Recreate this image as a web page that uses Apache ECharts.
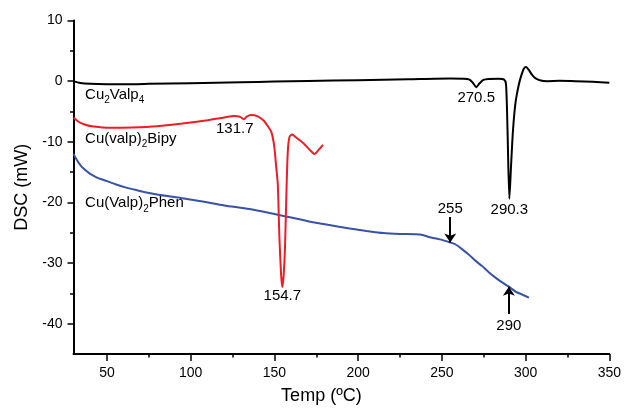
<!DOCTYPE html>
<html>
<head>
<meta charset="utf-8">
<script src="https://cdn.jsdelivr.net/npm/echarts@6/dist/echarts.min.js"></script>
<style>
  html, body { margin: 0; padding: 0; background: #fff; }
  #chart { width: 624px; height: 410px; }
</style>
</head>
<body>
<div id="chart"></div>
<script>
// Axis ticks
const xTicks = [50, 100, 150, 200, 250, 300, 350];
const xMinorTicks = [75, 125, 175, 225, 275, 325];
const yTicks = [-40, -30, -20, -10, 0, 10];
const yMinorTicks = [-35, -25, -15, -5, 5];

// DSC traces: [temperature (ºC), heat flow (mW)]
const cu2valp4 = [
  [30, 0.0], [34, -0.3], [40, -0.45], [50, -0.5], [65, -0.5], [75, -0.45],
  [100, -0.33], [130, -0.18], [150, -0.08], [170, 0.02], [200, 0.15],
  [230, 0.3], [255, 0.42], [263, 0.4], [266.5, 0.25], [268.7, -0.35],
  [270.5, -1.0], [272.4, -0.4], [274.8, 0.2], [278, 0.35], [284, 0.4],
  [287, 0.3], [288.3, -0.5], [289.2, -8], [290.3, -19.4], [291.3, -14],
  [292.5, -8], [294, -3.5], [296, -0.5], [297.5, 1.0], [299, 2.1],
  [300.3, 2.35], [302, 1.8], [304, 1.0], [306, 0.45], [309, 0.1],
  [313, 0.0], [320, 0.05], [330, 0.0], [340, -0.1], [350, -0.25]
];

const cuValpBipy = [
  [30, -6.0], [33, -6.7], [37, -7.2], [42, -7.5], [52, -7.7], [65, -7.65],
  [80, -7.45], [95, -7.0], [110, -6.45], [120, -6.0], [126, -5.75],
  [129.5, -5.9], [131.7, -6.3], [133.5, -5.85], [136, -5.6], [140, -5.8],
  [143.5, -6.5], [146, -7.4], [148, -8.3], [149, -9.3], [150, -11],
  [151, -14], [152, -17], [153, -26], [154, -32], [154.7, -34.0],
  [155.5, -32], [156.3, -27.5], [157.2, -18], [158, -11.5], [159, -9.2],
  [160.5, -8.8], [163, -9.3], [167.5, -10.3], [171, -11.3], [174, -12.0],
  [176.5, -11.3], [179, -10.5]
];

const cuValpPhen = [
  [30, -12.0], [32, -13.0], [34, -13.8], [36, -14.4], [40, -15.3],
  [44, -15.9], [48, -16.3], [55, -17.0], [62, -17.6], [68, -18.0],
  [80, -18.7], [95, -19.3], [108, -19.9], [120, -20.5], [135, -21.1],
  [148, -21.8], [160, -22.5], [170, -23.1], [182, -23.7], [195, -24.3],
  [205, -24.7], [215, -25.05], [225, -25.2], [237, -25.3], [243, -25.75],
  [249, -26.1], [255, -26.6], [258, -26.9], [262, -27.7], [266, -28.6],
  [270, -29.6], [274, -30.5], [278, -31.5], [282, -32.4], [286, -33.2],
  [290, -33.9], [294, -34.7], [298, -35.2], [302, -35.7]
];

// Labelled peak temperatures and marked transitions
const cu2valp4Peaks = [270.5, 290.3];
const bipyPeaks = [131.7, 154.7];
const phenArrowsDown = [255];
const phenArrowsUp = [290];

const FONT = 'Liberation Sans, Arial, Helvetica, sans-serif';
const C_BLACK = '#000000';
const C_RED = '#ee1d24';
const C_BLUE = '#3953a4';

function valueAt(data, x) {
  const p = data.find(d => d[0] === x);
  return p ? p[1] : null;
}

function peakLabel(data, x, offset) {
  return {
    coord: [x, valueAt(data, x)],
    symbol: 'circle',
    symbolSize: 0,
    label: {
      show: true,
      formatter: String(x),
      offset: offset,
      color: '#000',
      fontSize: 15,
      fontFamily: FONT
    }
  };
}

function nameLabel(coord, parts) {
  return {
    coord: coord,
    symbol: 'circle',
    symbolSize: 0,
    label: {
      show: true,
      position: 'inside',
      align: 'left',
      verticalAlign: 'middle',
      formatter: parts,
      rich: {
        n: { fontSize: 15, fontFamily: FONT, color: '#000', lineHeight: 18, verticalAlign: 'top' },
        s: { fontSize: 10, fontFamily: FONT, color: '#000', lineHeight: 10, verticalAlign: 'top', padding: [8, 0, 0, 0] }
      }
    }
  };
}

const richName = (base, sub, rest, sub2) =>
  '{n|' + base + '}{s|' + sub + '}{n|' + rest + '}' + (sub2 ? '{s|' + sub2 + '}' : '');

const arrowLine = (x, yTip, len) => [
  { coord: [x, yTip + len] },
  { coord: [x, yTip] }
];

const chart = echarts.init(document.getElementById('chart'), null, { renderer: 'canvas' });

const lineBase = {
  type: 'line',
  showSymbol: false,
  smooth: 0.25,
  animation: false,
  emphasis: { disabled: true },
  silent: true
};

const axisLineStyle = { show: true, onZero: false, lineStyle: { color: '#000', width: 2 } };

chart.setOption({
  animation: false,
  backgroundColor: '#fff',
  grid: { left: 73.5, right: 14, top: 20.5, bottom: 53 },
  xAxis: [
    {
      type: 'value',
      min: 30,
      max: 350,
      position: 'bottom',
      name: 'Temp (ºC)',
      nameLocation: 'middle',
      nameGap: 33,
      nameTextStyle: { fontSize: 18, fontFamily: FONT, color: '#000', padding: [0, 40, 0, 0] },
      axisLine: axisLineStyle,
      axisTick: { show: true, length: 7, lineStyle: { color: '#000', width: 1.5 }, customValues: xTicks },
      axisLabel: { fontSize: 14, fontFamily: FONT, color: '#000', margin: 12, customValues: xTicks },
      splitLine: { show: false }
    },
    {
      type: 'value',
      min: 30,
      max: 350,
      position: 'bottom',
      axisLine: { show: false, onZero: false },
      axisTick: { show: true, length: 3.5, lineStyle: { color: '#000', width: 1.5 }, customValues: xMinorTicks },
      axisLabel: { show: false },
      splitLine: { show: false }
    }
  ],
  yAxis: [
    {
      type: 'value',
      min: -45,
      max: 10,
      position: 'left',
      name: 'DSC (mW)',
      nameLocation: 'middle',
      nameGap: 42,
      nameTextStyle: { fontSize: 18, fontFamily: FONT, color: '#000' },
      axisLine: axisLineStyle,
      axisTick: { show: true, length: 6, lineStyle: { color: '#000', width: 1.5 }, customValues: yTicks },
      axisLabel: { fontSize: 14, fontFamily: FONT, color: '#000', margin: 11, customValues: yTicks },
      splitLine: { show: false }
    },
    {
      type: 'value',
      min: -45,
      max: 10,
      position: 'left',
      axisLine: { show: false, onZero: false },
      axisTick: { show: true, length: 3.5, lineStyle: { color: '#000', width: 1.5 }, customValues: yMinorTicks },
      axisLabel: { show: false },
      splitLine: { show: false }
    }
  ],
  series: [
    Object.assign({}, lineBase, {
      name: 'Cu(Valp)2Phen',
      data: cuValpPhen,
      lineStyle: { color: C_BLUE, width: 2 },
      itemStyle: { color: C_BLUE },
      markPoint: {
        silent: true,
        animation: false,
        data: [
          nameLabel([36.9, -20.4], richName('Cu(Valp)', '2', 'Phen')),
          ...phenArrowsDown.map(x => peakLabel(cuValpPhen, x, [0, -34])),
          ...phenArrowsUp.map(x => peakLabel(cuValpPhen, x, [0, 39]))
        ]
      },
      markLine: {
        silent: true,
        animation: false,
        symbol: ['none', 'arrow'],
        symbolSize: 9,
        label: { show: false },
        lineStyle: { color: '#000', width: 2, type: 'solid' },
        data: [
          ...phenArrowsDown.map(x => arrowLine(x, valueAt(cuValpPhen, x), 4.2)),
          ...phenArrowsUp.map(x => arrowLine(x, valueAt(cuValpPhen, x), -4.5))
        ]
      }
    }),
    Object.assign({}, lineBase, {
      name: 'Cu(valp)2Bipy',
      data: cuValpBipy,
      lineStyle: { color: C_RED, width: 2 },
      itemStyle: { color: C_RED },
      markPoint: {
        silent: true,
        animation: false,
        data: [
          nameLabel([36.9, -9.8], richName('Cu(valp)', '2', 'Bipy')),
          peakLabel(cuValpBipy, bipyPeaks[0], [-9, 10]),
          peakLabel(cuValpBipy, bipyPeaks[1], [0, 9])
        ]
      }
    }),
    Object.assign({}, lineBase, {
      name: 'Cu2Valp4',
      data: cu2valp4,
      lineStyle: { color: C_BLACK, width: 2 },
      itemStyle: { color: C_BLACK },
      markPoint: {
        silent: true,
        animation: false,
        data: [
          nameLabel([36.9, -2.5], richName('Cu', '2', 'Valp', '4')),
          peakLabel(cu2valp4, cu2valp4Peaks[0], [0, 11]),
          peakLabel(cu2valp4, cu2valp4Peaks[1], [0, 11])
        ]
      }
    })
  ]
});
</script>
</body>
</html>
